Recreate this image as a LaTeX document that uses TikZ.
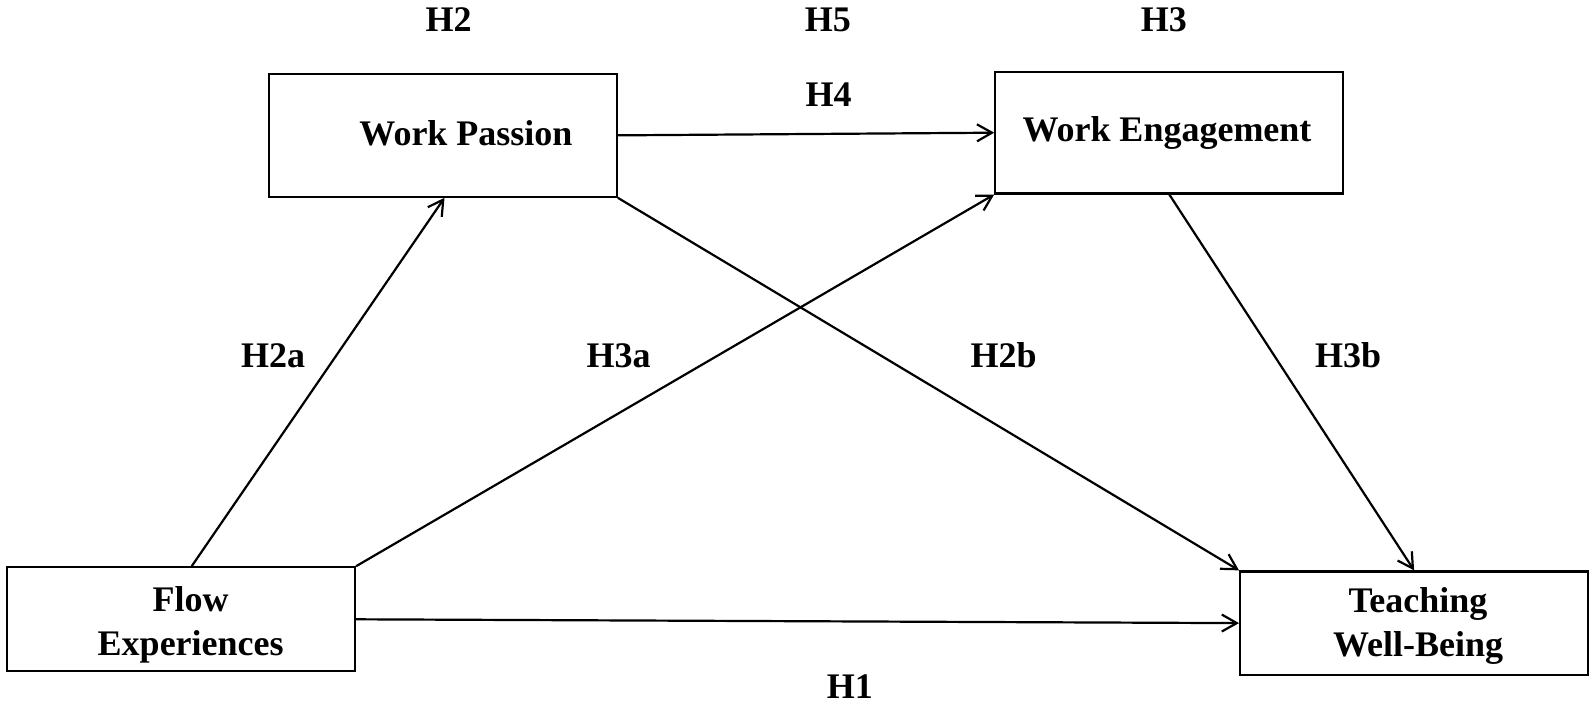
\documentclass[tikz,border=0pt]{standalone}
\usepackage{fontspec}
\setmainfont{Liberation Serif}
\usetikzlibrary{arrows.meta}
\begin{document}
\begin{tikzpicture}[x=1pt,y=-1pt,
  box/.style={draw, line width=2.2pt, inner sep=0pt, rectangle},
  txt/.style={font=\bfseries\fontsize{36}{44}\selectfont, inner sep=0pt, align=center},
  hyp/.style={font=\bfseries\fontsize{36}{44}\selectfont, inner sep=0pt, anchor=base},
  conn/.style={line width=2.2pt, -{Straight Barb[length=15pt,width=17pt,line width=2.2pt]}}
]
\useasboundingbox (0,0) rectangle (1595,704);
% boxes
\node[box, minimum width=348pt, minimum height=122.7pt] (wp) at (442.75,135.35) {};
\node[box, minimum width=348pt, minimum height=121.4pt] (we) at (1169.3,132.7) {};
\node[box, minimum width=348pt, minimum height=104pt] (fe) at (181,619.3) {};
\node[box, minimum width=348pt, minimum height=103.3pt] (tw) at (1414.1,623.1) {};
% box texts
\node[txt, anchor=base] (wpt) at (466,145) {Work Passion};
\node[txt, anchor=base] (wet) at (1167,141.7) {Work Engagement};
\node[txt, anchor=base] (fet) at (190.7,655.3) {Flow\\Experiences};
\node[txt, anchor=base] (twt) at (1418,656) {Teaching\\Well-Being};
% connectors
\draw[conn] ([xshift=10.7pt]fe.north) -- ([xshift=1.75pt]wp.south);
\draw[conn] (fe.north east) -- (we.south west);
\draw[conn] (wp.east) -- (we.west);
\draw[conn] (wp.south east) -- (tw.north west);
\draw[conn] (we.south) -- (tw.north);
\draw[conn] (fe.east) -- (tw.west);
% hypothesis labels
\node[hyp] (h2) at (448.6,31.7) {H2};
\node[hyp] (h5) at (827.9,31.7) {H5};
\node[hyp] (h3) at (1163.8,31.7) {H3};
\node[hyp] (h4) at (828.5,106.7) {H4};
\node[hyp] (h2a) at (273,367) {H2a};
\node[hyp] (h3a) at (618.5,367) {H3a};
\node[hyp] (h2b) at (1003.6,367) {H2b};
\node[hyp] (h3b) at (1348,367) {H3b};
\node[hyp] (h1) at (849.9,698) {H1};
\end{tikzpicture}
\end{document}
